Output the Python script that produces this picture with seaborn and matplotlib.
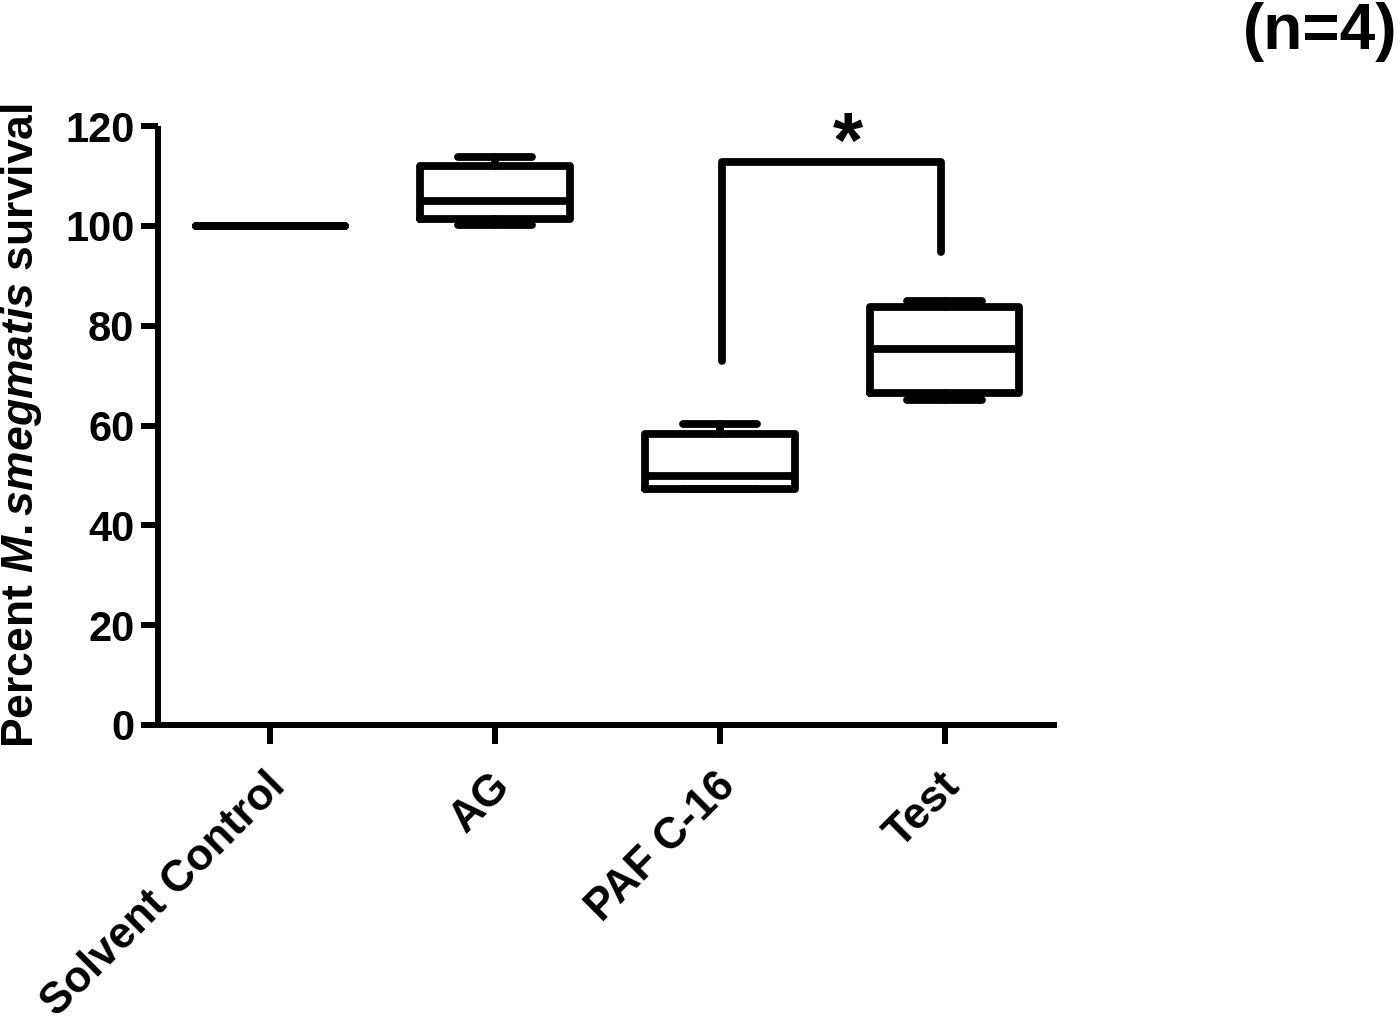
import numpy as np
import pandas as pd
import matplotlib
matplotlib.use("Agg")
import matplotlib.pyplot as plt
import matplotlib.transforms as mtransforms
import seaborn as sns

# ---- data (five-number summaries: min, Q1, median, Q3, max) ----
categories = ["Solvent Control", "AG", "PAF C-16", "Test"]
solvent_control = [100.0, 100.0, 100.0, 100.0, 100.0]
ag = [100.1, 101.4, 105.0, 112.0, 113.7]
paf_c16 = [47.2, 47.2, 49.8, 58.2, 60.3]
test = [65.1, 66.5, 75.3, 83.7, 85.0]
y_ticks = [0, 20, 40, 60, 80, 100, 120]
ylabel = r"Percent $\mathit{M{.}smegmatis}$ survival"
n_label = "(n=4)"
sig_label = "*"
bracket_y = [73.0, 112.8, 112.8, 94.8]

df = pd.DataFrame({
    "group": np.repeat(categories, 5),
    "value": solvent_control + ag + paf_c16 + test,
})

sns.set_style("ticks")
plt.rcParams["font.family"] = ["Liberation Sans", "DejaVu Sans"]
plt.rcParams["font.weight"] = "bold"
plt.rcParams["text.color"] = "black"
plt.rcParams["axes.labelcolor"] = "black"
plt.rcParams["xtick.color"] = "black"
plt.rcParams["ytick.color"] = "black"
plt.rcParams["axes.edgecolor"] = "black"
plt.rcParams["mathtext.fontset"] = "custom"
plt.rcParams["mathtext.rm"] = "Liberation Sans:bold"
plt.rcParams["mathtext.it"] = "Liberation Sans:italic:bold"
plt.rcParams["mathtext.bf"] = "Liberation Sans:bold"

fig = plt.figure(figsize=(14, 10.26), dpi=100)
ax = fig.add_axes([158 / 1400, 1 - 725 / 1026, 899 / 1400, 599 / 1026])

lw = 5.6
line_kw = dict(color="black", linewidth=lw, solid_capstyle="round")
sns.boxplot(
    data=df, x="group", y="value", order=categories, ax=ax,
    whis=np.inf, width=0.665, fill=False, color="black", linecolor="black",
    linewidth=lw,
    whiskerprops=line_kw, capprops=line_kw,
    medianprops=dict(color="black", linewidth=lw),
)

# significance bracket between PAF C-16 and Test
x_left, x_right = 2.01, 2.985
ax.plot([x_left, x_left, x_right, x_right], bracket_y, color="black",
        linewidth=lw, solid_capstyle="round", solid_joinstyle="round",
        clip_on=False)
ax.text(2.57, 111.8, sig_label, ha="center", va="baseline",
        fontsize=56, fontweight="bold")

ax.set_xlim(-0.5, 3.5)
ax.set_ylim(0, 120)
ax.set_yticks(y_ticks)
ax.set_xlabel("")
ax.set_ylabel(ylabel, fontsize=32, fontweight="bold")
ax.yaxis.label.set_va("center")
ax.yaxis.set_label_coords(-0.152, 0.5)

sns.despine(ax=ax)
for s in ("left", "bottom"):
    ax.spines[s].set_linewidth(4.3)
    ax.spines[s].set_capstyle("butt")

ax.tick_params(axis="y", length=12, width=4.3, pad=5, labelsize=30, color="black")
ax.tick_params(axis="x", length=14, width=4.3, pad=27, labelsize=31.5, color="black")
for lab in ax.get_yticklabels():
    lab.set_fontweight("bold")
shift = mtransforms.ScaledTranslation(9 / 100, 2 / 100, fig.dpi_scale_trans)
for lab in ax.get_xticklabels():
    lab.set_fontweight("bold")
    lab.set_rotation(45)
    lab.set_ha("right")
    lab.set_va("center")
    lab.set_rotation_mode("anchor")
    lab.set_transform(lab.get_transform() + shift)

fig.text(1397 / 1400, 1 - 2 / 1026, n_label, ha="right", va="top",
         fontsize=46, fontweight="bold")

fig.savefig("out.png", dpi=100, facecolor="white")
